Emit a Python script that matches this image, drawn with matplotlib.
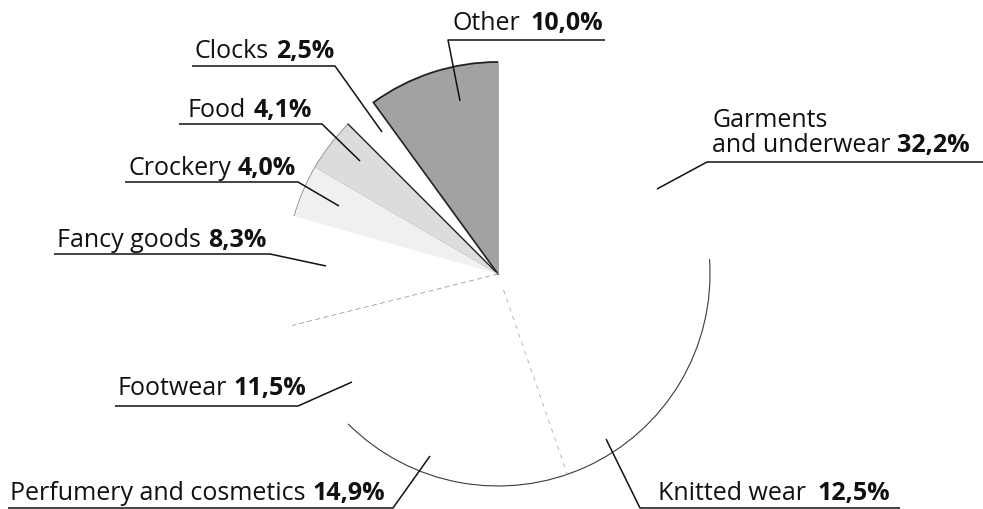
import numpy as np
import matplotlib
matplotlib.use("Agg")
import matplotlib.pyplot as plt
from matplotlib.patches import Arc

# ---- data (counter-clockwise from 12 o'clock) ----
categories = ["Other", "Clocks", "Food", "Crockery", "Fancy goods", "Footwear",
              "Perfumery and cosmetics", "Knitted wear", "Garments\nand underwear"]
shares = [10.0, 2.5, 4.1, 4.0, 8.3, 11.5, 14.9, 12.5, 32.2]

# ---- styles / layout (pixel coordinates, y down) ----
fills = ["#a2a2a2", "white", "#dcdcdc", "#f0f0f0", "white", "white", "white", "white", "white"]
text_pos = [(453, 30), (195, 58), (188, 117), (128, 175), (57, 247), (117, 395),
            (10, 500), (658, 500), (712, 152)]
gaps = [7, 5, 5, 5, 5, 5, 5, 8, 5]
leader_paths = [
    [(605, 41), (448, 41), (460, 102)],
    [(192, 67), (335, 67), (382, 133)],
    [(179, 125), (322, 125), (360, 162)],
    [(125, 183), (298, 183), (339, 207)],
    [(54, 255), (270, 255), (326, 267)],
    [(115, 407), (298, 407), (352, 383)],
    [(8, 509), (393, 509), (430, 457)],
    [(900, 509), (640, 509), (606, 440)],
    [(983, 163), (707, 163), (657, 190)],
]

W, H = 983, 510
fig = plt.figure(figsize=(W / 100, H / 100), dpi=100)
ax = fig.add_axes([0, 0, 1, 1])


def P(x, y):
    return (x, H - y)


cx, cy = P(498, 275)
R = 212
wedges, _ = ax.pie(shares, colors=fills, startangle=90, counterclock=True,
                   center=(cx, cy), radius=R, frame=True,
                   wedgeprops=dict(linewidth=0))
ax.set_xlim(0, W)
ax.set_ylim(0, H)
ax.set_aspect("equal")
ax.axis("off")


def radial(theta, r0=0.0, **kw):
    t = np.deg2rad(theta)
    ax.plot([cx + r0 * R * np.cos(t), cx + R * np.cos(t)],
            [cy + r0 * R * np.sin(t), cy + R * np.sin(t)], **kw)


def arc(t1, t2, **kw):
    ax.add_patch(Arc((cx, cy), 2 * R, 2 * R, theta1=t1, theta2=t2, **kw))


w = wedges
# Other: dark outline
arc(w[0].theta1, w[0].theta2, color="#222222", lw=1.3)
radial(w[0].theta2, color="#222222", lw=1.2)
radial(w[0].theta1, color="#9a9a9a", lw=0.6)
# Food right edge dark
radial(w[2].theta1, color="#222222", lw=1.0)
radial(w[2].theta2, color="#c8c8c8", lw=0.5)
arc(w[2].theta1, w[3].theta2, color="#8a8a8a", lw=0.6)
# faint dashed radii
radial(w[5].theta1, color="#999999", lw=0.6, ls=(0, (6, 4)))
radial(w[7].theta1, r0=0.08, color="#aaaaaa", lw=0.6, ls=(0, (5, 6)))
# visible lower arc
arc(225, 364, color="#3a3a3a", lw=0.8)

# leader lines
for path in leader_paths:
    xs = [p[0] for p in path]
    ys = [H - p[1] for p in path]
    ax.plot(xs, ys, color="#111111", lw=1.1, solid_capstyle="butt")

# labels
fs = 18
for name, val, (tx, ty), g in zip(categories, shares, text_pos, gaps):
    t = ax.text(*P(tx, ty), name, ha="left", va="baseline", fontsize=fs,
                family="Open Sans", color="#111111", linespacing=1.0)
    pct = f"{val:.1f}".replace(".", ",") + "%"
    ax.annotate(pct, xy=(1, 0), xycoords=t, xytext=(g, 0),
                textcoords="offset points", ha="left", va="bottom",
                fontsize=fs, family="Open Sans", fontweight="bold",
                color="#111111")

fig.savefig("out.png", dpi=100)
